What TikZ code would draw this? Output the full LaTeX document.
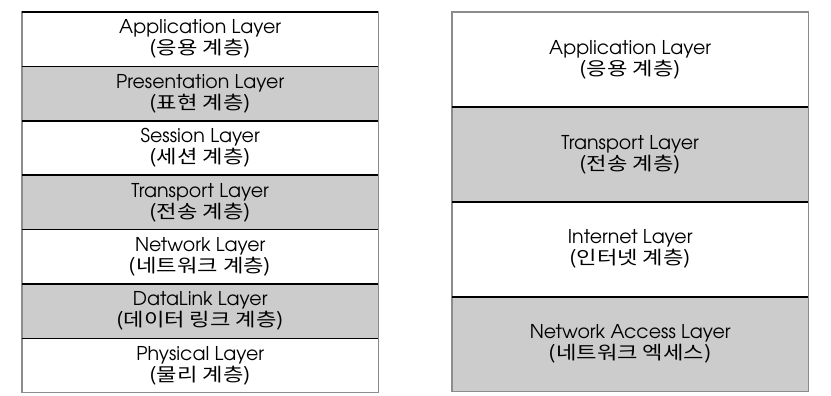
\documentclass[tikz,border=0pt]{standalone}
\usepackage{fontspec}
\setmainfont{TeX Gyre Adventor}
\newfontfamily\kr[FakeStretch=1.2]{Noto Sans CJK KR}
\usetikzlibrary{positioning}
\definecolor{layergray}{RGB}{204,204,204}
\definecolor{edgegray}{RGB}{140,140,140}

\newcommand{\ko}[1]{{\kr\fontsize{18.5}{21}\selectfont #1}}

\tikzset{
  layer/.style={minimum width=356pt, inner sep=0pt, align=center,
    font=\fontsize{19}{21}\selectfont},
  osi/.style={layer, minimum height=54pt},
  tcpip/.style={layer, minimum height=94.5pt},
  shaded/.style={fill=layergray}
}

\begin{document}
\begin{tikzpicture}[x=1pt,y=-1pt]
  \useasboundingbox[fill=white] (0,0) rectangle (831,396);

  % OSI 7 layers
  \node[osi, anchor=north west] (app) at (22,12) {Application Layer\\\ko{(응용 계층)}};
  \node[osi, shaded, below=0pt of app] (pres) {Presentation Layer\\\ko{(표현 계층)}};
  \node[osi, below=0pt of pres] (sess) {Session Layer\\\ko{(세션 계층)}};
  \node[osi, shaded, below=0pt of sess] (trans) {Transport Layer\\\ko{(전송 계층)}};
  \node[osi, below=0pt of trans] (net) {Network Layer\\\ko{(네트워크 계층)}};
  \node[osi, shaded, below=0pt of net] (link) {DataLink Layer\\\ko{(데이터 링크 계층)}};
  \node[osi, below=0pt of link] (phys) {Physical Layer\\\ko{(물리 계층)}};

  % TCP/IP 4 layers
  \node[tcpip, anchor=north west] (tapp) at (452,12) {Application Layer\\\ko{(응용 계층)}};
  \node[tcpip, shaded, below=0pt of tapp] (ttrans) {Transport Layer\\\ko{(전송 계층)}};
  \node[tcpip, below=0pt of ttrans] (tinet) {Internet Layer\\\ko{(인터넷 계층)}};
  \node[tcpip, shaded, below=0pt of tinet] (tacc) {Network Access Layer\\\ko{(네트워크 엑세스)}};

  % outlines
  \draw[edgegray, line width=1.2pt] (app.north west) rectangle (phys.south east);
  \draw[edgegray, line width=1.2pt] (tapp.north west) rectangle (tacc.south east);
  \draw[line width=1.6pt] (app.north west) -- (app.north east);
  \foreach \n in {app,pres,sess,trans,net,link,tapp,ttrans,tinet}
    \draw[line width=1.6pt] (\n.south west) -- (\n.south east);
\end{tikzpicture}
\end{document}
